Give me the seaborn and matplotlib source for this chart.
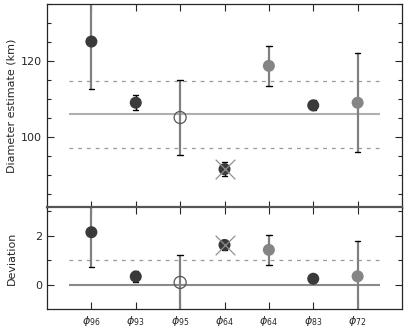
import numpy as np
import pandas as pd
import matplotlib
matplotlib.use("Agg")
import matplotlib.pyplot as plt
import seaborn as sns
from matplotlib.ticker import MultipleLocator

# estimates per model
labels = [r'$\phi_{96}$', r'$\phi_{93}$', r'$\phi_{95}$', r'$\phi_{64}$',
          r'$\phi_{64}$', r'$\phi_{83}$', r'$\phi_{72}$']
diameter = [125.1, 109.0, 105.1, 91.5, 118.7, 108.3, 109.0]
diam_err = [12.4, 2.0, 10.0, 1.8, 5.3, 1.3, 13.0]
deviation = [2.15, 0.34, 0.10, 1.63, 1.43, 0.25, 0.35]
dev_err = [1.4, 0.22, 1.12, 0.2, 0.6, 0.13, 1.46]
mean_diam = 105.9
sigma_diam = 8.8

pos = np.arange(1, len(labels) + 1)
df = pd.DataFrame({'x': pos, 'diameter': diameter, 'deviation': deviation,
                   'diam_err': diam_err, 'dev_err': dev_err})

# per-point styling
face = ['#3a3a3a', '#3a3a3a', 'none', '#3a3a3a', '#858585', '#3a3a3a', '#858585']
ecol = ['#808080', 'black', '#808080', 'black', '#808080', 'black', '#808080']
crossed = [3]

sns.set_style("ticks")
plt.rcParams['font.family'] = ['DejaVu Sans']
plt.rcParams['font.size'] = 8

fig = plt.figure(figsize=(4.07, 3.30), dpi=100)
ax1 = fig.add_axes([0.1155, 0.370, 0.8722, 0.618])
ax2 = fig.add_axes([0.1155, 0.064, 0.8722, 0.308])


def draw(ax, col, errcol, ref, band):
    ax.hlines(ref, 0.5, 7.5, color='#b0b0b0' if ax is ax1 else '#8a8a8a', lw=1.5, zorder=1)
    for b in band:
        ax.hlines(b, 0.5, 7.5, color='#999999', lw=0.9, linestyles=(0, (3, 4)), zorder=1)
    for i, r in df.iterrows():
        ax.errorbar(r['x'], r[col], yerr=r[errcol], fmt='none',
                    ecolor=ecol[i], elinewidth=1.6 if ecol[i] != 'black' else 1.0,
                    capsize=0, zorder=2)
        for sgn in (1, -1):
            ax.plot([r['x'] - 0.06, r['x'] + 0.06],
                    [r[col] + sgn * r[errcol]] * 2, color='black', lw=1.0, zorder=3)
    filled = df.iloc[[i for i in range(len(df)) if face[i] != 'none']]
    sns.scatterplot(data=filled, x='x', y=col, ax=ax, s=75, linewidth=0,
                    c=[face[i] for i in filled.index], zorder=4, legend=False)
    openpt = df.iloc[[i for i in range(len(df)) if face[i] == 'none']]
    sns.scatterplot(data=openpt, x='x', y=col, ax=ax, s=75, facecolor='none',
                    edgecolor='#555555', linewidth=0.9, zorder=4, legend=False)
    for i in crossed:
        ax.scatter(df['x'][i], df[col][i], marker='x', s=200, color='#909090',
                   linewidth=0.9, zorder=5)
    ax.set_xlim(0, 8)
    ax.set_xticks(pos)
    ax.tick_params(direction='in', top=True, right=True, length=5, width=0.8)
    ax.tick_params(which='minor', direction='in', right=True, left=True, length=3, width=0.8)
    ax.set_xlabel('')


draw(ax1, 'diameter', 'diam_err', mean_diam, [mean_diam + sigma_diam, mean_diam - sigma_diam])
ax1.set_ylim(81.3, 135)
ax1.yaxis.set_major_locator(MultipleLocator(20))
ax1.yaxis.set_minor_locator(MultipleLocator(5))
ax1.set_xticklabels([])
ax1.set_ylabel('Diameter estimate (km)')

draw(ax2, 'deviation', 'dev_err', 0, [1.0])
ax2.set_ylim(-0.98, 3.17)
ax2.yaxis.set_major_locator(MultipleLocator(2))
ax2.yaxis.set_minor_locator(MultipleLocator(1))
ax2.set_xticklabels(labels, fontsize=8)
ax2.tick_params(axis='x', pad=4)
ax2.set_ylabel('Deviation')
ax2.spines['top'].set_linewidth(1.6)
ax2.spines['top'].set_color('#555555')

for ax in (ax1, ax2):
    for s in ax.spines.values():
        s.set_linewidth(max(s.get_linewidth(), 0.9))
ax1.yaxis.set_label_coords(-0.085, 0.5)
ax2.yaxis.set_label_coords(-0.085, 0.5)

fig.savefig('out.png', dpi=100)
